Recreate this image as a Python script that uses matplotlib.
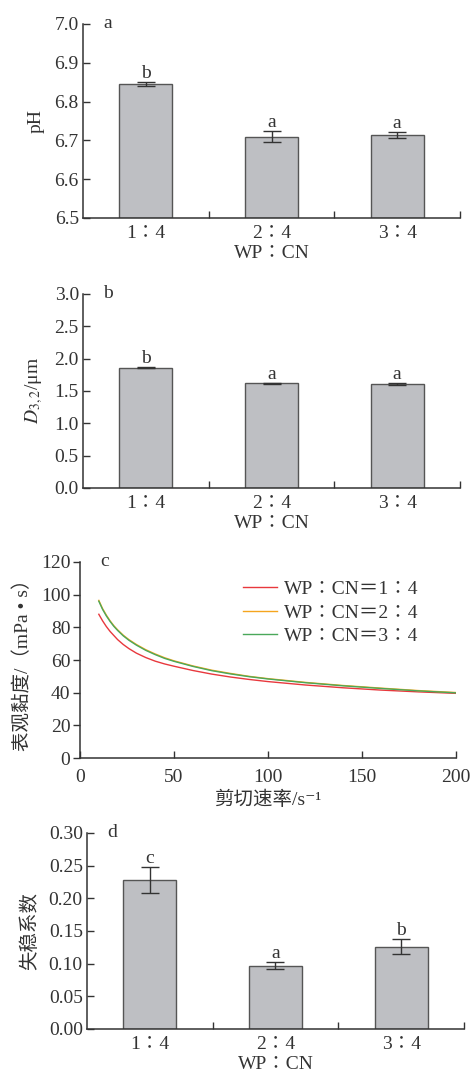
import matplotlib
matplotlib.use("Agg")
from matplotlib import pyplot as plt

plt.rcParams['font.family'] = ['Liberation Serif', 'DejaVu Serif', 'Noto Sans CJK SC']
plt.rcParams['mathtext.fontset'] = 'stix'

# bar panels
ratios = ["1∶4", "2∶4", "3∶4"]
ph_mean = [6.845, 6.710, 6.714]
ph_err = [0.006, 0.015, 0.008]
ph_sig = ["b", "a", "a"]

d32_mean = [1.86, 1.62, 1.61]
d32_err = [0.01, 0.01, 0.02]
d32_sig = ["b", "a", "a"]

ki_mean = [0.228, 0.097, 0.126]
ki_err = [0.020, 0.005, 0.012]
ki_sig = ["c", "a", "b"]

# viscosity curves (panel c)
shear = [10, 12, 14, 16, 18, 20, 23, 26, 30, 35, 40, 45, 50, 60, 70, 80,
         90, 100, 120, 140, 160, 180, 200]
visc_14 = [88, 84, 80.5, 77.5, 75, 72.5, 69.5, 67, 64.2, 61.5, 59.3, 57.6, 56.2,
           53.6, 51.4, 49.6, 48.1, 46.8, 44.7, 43.0, 41.6, 40.5, 39.6]
visc_24 = [96.5, 91.5, 87.5, 84, 81, 78.5, 75.2, 72.5, 69.5, 66.3, 63.7, 61.4, 59.5,
           56.4, 53.8, 51.8, 50.0, 48.6, 46.3, 44.4, 42.8, 41.3, 40.1]
visc_34 = [96, 91, 87, 83.6, 80.6, 78.1, 74.8, 72.1, 69.1, 65.9, 63.3, 61.0, 59.2,
           56.1, 53.5, 51.5, 49.8, 48.4, 46.1, 44.2, 42.6, 41.1, 39.9]
visc_labels = ["WP∶CN＝1∶4", "WP∶CN＝2∶4", "WP∶CN＝3∶4"]
visc_colors = ["#e8383d", "#f5a51e", "#4aa85a"]

TXT = "#333333"
FS = 14
plt.rcParams['text.color'] = TXT
plt.rcParams['axes.labelcolor'] = TXT
plt.rcParams['xtick.color'] = TXT
plt.rcParams['ytick.color'] = TXT
plt.rcParams['axes.edgecolor'] = TXT

fig = plt.figure(figsize=(4.74, 10.76), dpi=100)


def bar_panel(rect, means, errs, sig, ylim, yticks, fmt, ylabel, tag):
    ax = fig.add_axes(rect)
    xs = [i + 0.5 for i in range(len(means))]
    base = ylim[0]
    ax.bar(xs, [m - base for m in means], bottom=base, width=0.42,
           color="#bebfc3", edgecolor="#555555", linewidth=1.0, zorder=2)
    ax.errorbar(xs, means, yerr=errs, fmt="none", ecolor="#333333",
                elinewidth=1.0, capsize=6.5, capthick=1.0, zorder=3)
    for x, m, e, s in zip(xs, means, errs, sig):
        ax.annotate(s, (x, m + e), xytext=(0, 0), textcoords="offset points",
                    ha="center", va="bottom", fontsize=FS)
    ax.set_xlim(0, 3)
    ax.set_ylim(*ylim)
    ax.set_yticks(yticks)
    ax.set_yticklabels([fmt.format(v) for v in yticks])
    ax.set_xticks([1, 2, 3])
    ax.set_xticklabels([])
    ax.set_xticks(xs, minor=True)
    ax.set_xticklabels(ratios, minor=True)
    ax.tick_params(axis="x", which="minor", length=0, pad=5, labelsize=FS)
    ax.tick_params(axis="x", which="major", direction="in", length=5, width=1)
    ax.tick_params(axis="y", direction="in", length=5, width=1, labelsize=FS, pad=3)
    for sp in ["top", "right"]:
        ax.spines[sp].set_visible(False)
    for sp in ["left", "bottom"]:
        ax.spines[sp].set_linewidth(1.1)
    ax.set_xlabel("WP∶CN", fontsize=FS, labelpad=2)
    ax.set_ylabel(ylabel, fontsize=FS, labelpad=7)
    ax.text(0.053, 1.0, tag, transform=ax.transAxes, ha="left", va="center", fontsize=FS)
    return ax


bar_panel([0.1751, 0.7974, 0.7954, 0.1803], ph_mean, ph_err, ph_sig,
          (6.5, 7.0), [6.5, 6.6, 6.7, 6.8, 6.9, 7.0], "{:.1f}", "pH", "a")
bar_panel([0.1751, 0.5465, 0.7954, 0.1803], d32_mean, d32_err, d32_sig,
          (0, 3.0), [0, 0.5, 1.0, 1.5, 2.0, 2.5, 3.0], "{:.1f}", r"$D_{3,2}$/μm", "b")

# panel c
axc = fig.add_axes([0.1688, 0.2955, 0.7932, 0.1822])
axc.plot(shear, visc_14, color=visc_colors[0], lw=1.0, label=visc_labels[0])
axc.plot(shear, visc_24, color=visc_colors[1], lw=1.0, label=visc_labels[1])
axc.plot(shear, visc_34, color=visc_colors[2], lw=1.0, label=visc_labels[2])
axc.set_xlim(0, 200)
axc.set_ylim(0, 120)
axc.set_xticks([0, 50, 100, 150, 200])
axc.set_yticks([0, 20, 40, 60, 80, 100, 120])
axc.tick_params(axis="x", direction="in", length=5, width=1, labelsize=FS, pad=8)
axc.tick_params(axis="y", direction="out", length=5, width=1, labelsize=FS, pad=2)
for sp in ["top", "right"]:
    axc.spines[sp].set_visible(False)
for sp in ["left", "bottom"]:
    axc.spines[sp].set_linewidth(1.1)
axc.set_xlabel("剪切速率/s⁻¹", fontsize=FS, labelpad=3)
axc.set_ylabel("表观黏度/（mPa • s）", fontsize=FS, labelpad=6)
axc.text(0.053, 1.0, "c", transform=axc.transAxes, ha="left", va="center", fontsize=FS)
axc.legend(loc="upper left", bbox_to_anchor=(0.434, 0.905), frameon=False,
           fontsize=FS, handlelength=1.75, handletextpad=0.36, labelspacing=0.3,
           borderaxespad=0, borderpad=0)

bar_panel([0.1835, 0.0437, 0.7954, 0.1822], ki_mean, ki_err, ki_sig,
          (0, 0.30), [0, 0.05, 0.10, 0.15, 0.20, 0.25, 0.30], "{:.2f}", "失稳系数", "d")

fig.savefig("out.png", dpi=100)
